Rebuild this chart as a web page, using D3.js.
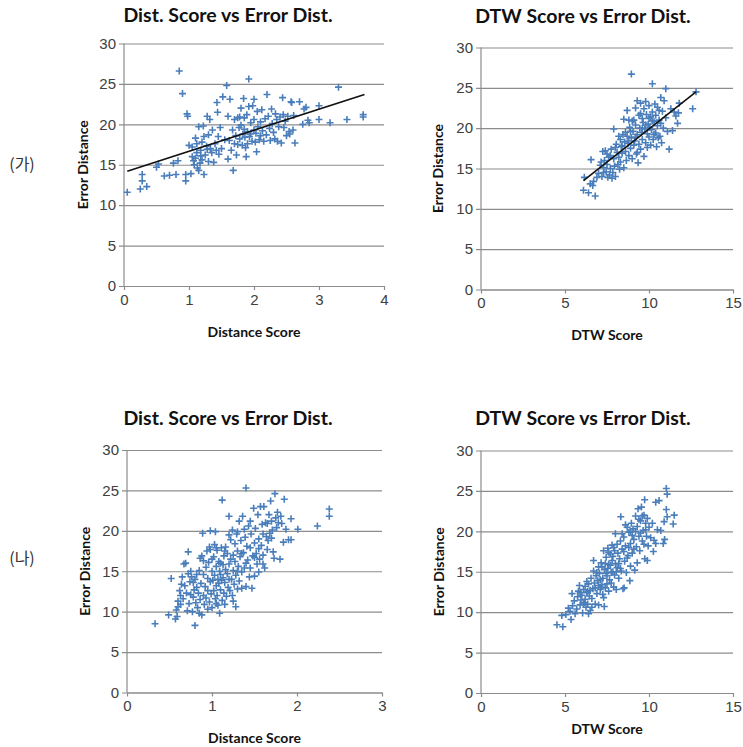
<!DOCTYPE html>
<html>
<head>
<meta charset="utf-8">
<script src="https://cdn.jsdelivr.net/npm/d3@7"></script>
<style>
	body { margin: 0; background: #fff; }
	svg { font-family: Lato, "Open Sans", sans-serif; }
</style>
</head>
<body>
<svg id="chart" width="743" height="747"></svg>
<script>
// (가) Distance score vs error distance
const distScoreA = [
	[0.05,11.6],[0.25,12.0],[0.28,13.0],[0.28,13.8],[0.35,12.3],[0.5,14.7],[0.53,15.1],[0.62,13.6],[0.7,13.7],[0.76,15.2],
	[0.8,13.8],[0.83,15.5],[0.85,26.6],[0.9,23.8],[0.95,13.8],[0.95,13.0],[0.97,21.3],[0.98,21.0],[1.0,17.4],[1.03,13.9],
	[1.05,17.2],[1.05,16.0],[1.07,15.5],[1.08,15.0],[1.1,18.3],[1.1,15.8],[1.12,16.5],[1.13,14.6],[1.15,14.3],[1.15,19.7],
	[1.17,15.2],[1.18,16.8],[1.2,17.8],[1.2,15.6],[1.22,19.8],[1.23,18.5],[1.23,13.8],[1.25,16.2],[1.27,17.3],[1.28,21.0],
	[1.3,18.7],[1.3,15.4],[1.32,20.6],[1.33,17.0],[1.35,16.5],[1.36,19.3],[1.38,15.3],[1.4,17.6],[1.42,16.8],[1.43,22.7],
	[1.44,21.5],[1.45,18.5],[1.46,16.3],[1.48,19.6],[1.5,17.0],[1.52,23.4],[1.55,18.1],[1.12,17.6],[1.18,16.1],[1.28,16.9],
	[1.58,24.8],[1.6,21.0],[1.6,15.7],[1.62,18.0],[1.63,23.1],[1.65,16.8],[1.67,19.3],[1.68,14.3],[1.7,20.6],[1.7,17.6],
	[1.72,18.6],[1.73,16.2],[1.75,20.8],[1.75,17.5],[1.77,19.6],[1.78,18.2],[1.8,22.0],[1.8,19.9],[1.82,17.4],[1.83,18.8],
	[1.84,23.2],[1.85,20.8],[1.86,18.4],[1.87,17.1],[1.88,16.0],[1.89,21.2],[1.9,19.1],[1.92,22.2],[1.92,25.6],[1.93,18.5],
	[1.95,20.2],[1.97,17.9],[1.98,22.3],[2.0,19.3],[2.0,23.1],[2.02,17.8],[2.03,18.9],[2.04,16.6],[2.05,21.6],[2.06,19.7],
	[2.08,18.1],[2.1,20.3],[2.12,21.8],[2.13,19.2],[2.15,17.9],[2.17,20.7],[2.19,18.7],[2.2,23.7],[2.22,21.0],[2.24,19.5],
	[2.25,18.0],[2.27,21.9],[2.28,20.1],[2.3,19.0],[2.32,18.2],[2.33,21.3],[2.35,20.6],[2.36,17.9],[2.38,19.7],[2.4,20.9],
	[2.42,17.7],[2.44,23.3],[2.45,21.2],[2.46,19.6],[2.48,20.4],[2.5,18.6],[2.52,21.0],[2.54,19.1],[2.55,18.8],[2.57,22.8],
	[2.58,22.7],[2.6,19.3],[2.61,21.1],[2.63,17.7],[1.85,19.4],[1.95,18.8],[2.0,20.6],[1.78,20.9],[1.9,17.6],[2.1,18.6],
	[2.7,22.8],[2.75,20.0],[2.77,21.9],[2.8,22.1],[2.83,20.5],[2.85,20.2],[3.0,22.3],[3.0,20.6],[3.17,20.2],[3.3,24.6],
	[3.43,20.6],[3.68,21.2],[3.68,20.9]
];
const distTrendA = [[0.05,14.2],[3.7,23.7]];

// (가) DTW score vs error distance
const dtwScoreA = [
	[6.1,12.3],[6.4,12.0],[6.8,11.6],[6.15,13.9],[6.5,13.1],[6.65,12.9],[6.7,13.4],[6.55,16.1],[6.9,13.9],[7.0,14.4],
	[7.1,15.4],[7.15,15.8],[7.2,14.0],[7.25,17.1],[7.3,15.1],[7.35,16.0],[7.4,17.2],[7.45,14.6],[7.5,15.5],[7.55,13.9],
	[7.6,16.4],[7.65,14.2],[7.7,15.0],[7.75,17.4],[7.8,13.8],[7.85,14.5],[7.9,19.9],[7.9,16.2],[7.95,15.3],[8.0,14.0],
	[8.05,18.0],[8.1,17.0],[8.15,15.5],[8.2,16.4],[8.25,14.9],[8.3,18.6],[8.3,15.8],[8.35,17.7],[8.4,16.9],[8.45,19.2],
	[8.5,21.1],[8.5,15.1],[8.55,18.3],[8.6,17.1],[8.65,16.0],[8.7,22.2],[8.7,19.0],[8.75,18.1],[8.8,16.6],[8.8,21.0],
	[8.85,20.1],[8.9,17.5],[8.95,26.7],[8.95,18.8],[9.0,16.2],[9.05,19.6],[9.1,17.9],[9.1,21.0],[9.15,18.4],[9.2,20.4],
	[9.25,16.8],[9.3,23.4],[9.3,19.2],[9.35,15.7],[9.4,21.6],[9.4,18.0],[9.45,20.0],[9.5,23.1],[9.5,17.4],[9.55,19.5],
	[9.6,21.2],[9.6,18.6],[9.65,20.7],[9.7,16.5],[9.7,22.4],[9.75,19.9],[9.8,18.2],[9.8,23.3],[9.85,21.7],[9.9,19.3],
	[9.9,17.6],[9.95,20.5],[10.0,22.8],[10.0,18.9],[10.05,20.1],[10.1,21.4],[10.1,17.9],[10.15,19.8],[10.2,25.5],[10.2,22.0],
	[10.25,18.6],[10.3,20.8],[10.35,23.0],[10.4,19.4],[10.4,21.6],[10.45,17.7],[10.5,20.3],[10.5,22.6],[10.55,18.8],[10.6,21.0],
	[10.65,19.0],[10.7,23.8],[10.7,20.6],[10.75,18.2],[10.8,22.1],[10.85,20.0],[10.9,23.4],[11.0,24.9],[11.0,21.3],[11.1,19.6],
	[11.2,17.4],[11.3,22.4],[11.4,19.7],[11.5,22.0],[11.6,21.5],[11.7,20.6],[11.75,21.9],[11.8,23.1],[12.6,22.4],[12.8,24.5],
	[9.0,20.9],[9.2,22.5],[8.6,19.5],[8.4,17.8],[8.2,19.0],[7.7,16.6],[7.5,16.8],[7.3,14.5],[8.0,17.6],[9.5,21.8],
	[9.8,20.4],[10.3,19.2],[10.6,22.2],[9.3,17.0],[8.9,19.6],[9.6,20.0],[10.0,21.2],[9.2,18.9],[8.8,18.4],[10.2,20.9]
];
const dtwTrendA = [[6.1,13.5],[12.8,24.5]];

// (나) Distance score vs error distance
const distScoreB = [
	[0.33,8.5],[0.49,9.6],[0.52,14.1],[0.57,9.1],[0.58,10.2],[0.59,9.4],[0.6,10.6],[0.6,11.3],[0.62,12.6],[0.63,10.9],
	[0.63,12.0],[0.64,13.4],[0.65,14.3],[0.66,11.6],[0.67,15.9],[0.68,13.2],[0.69,16.0],[0.7,12.3],[0.71,10.1],[0.72,17.4],
	[0.72,14.7],[0.73,11.0],[0.74,13.7],[0.75,12.1],[0.76,14.3],[0.77,10.0],[0.78,11.8],[0.78,13.6],[0.79,12.7],[0.8,8.3],
	[0.8,14.0],[0.81,11.1],[0.82,13.0],[0.83,10.5],[0.84,12.3],[0.85,15.1],[0.85,9.8],[0.86,16.6],[0.86,11.5],[0.87,13.5],
	[0.88,9.6],[0.88,16.9],[0.89,19.7],[0.9,12.0],[0.9,14.6],[0.91,10.9],[0.92,13.1],[0.93,15.5],[0.93,11.7],[0.94,17.5],
	[0.95,12.6],[0.95,14.1],[0.96,16.1],[0.97,11.2],[0.97,18.0],[0.98,13.7],[0.98,20.0],[0.99,12.2],[1.0,15.0],[1.0,10.5],
	[1.01,13.9],[1.02,16.8],[1.02,12.6],[1.03,18.3],[1.03,14.5],[1.04,11.6],[1.04,19.9],[1.05,13.2],[1.05,15.6],[1.06,12.0],
	[1.06,17.6],[1.07,14.0],[1.07,10.8],[1.08,16.2],[1.08,13.5],[1.09,15.0],[1.09,9.8],[1.1,12.7],[1.1,14.6],[1.11,17.9],
	[1.11,13.9],[1.12,23.8],[1.12,11.4],[1.13,15.8],[1.13,14.2],[1.14,12.3],[1.14,16.9],[1.15,13.6],[1.16,18.0],[1.16,15.2],
	[1.17,11.9],[1.18,14.7],[1.18,17.2],[1.19,13.0],[1.2,21.8],[1.2,15.9],[1.21,12.6],[1.22,16.5],[1.22,18.9],[1.23,14.0],
	[1.24,20.1],[1.24,12.0],[1.25,17.0],[1.25,15.1],[1.26,13.4],[1.27,18.4],[1.27,16.2],[1.28,10.6],[1.28,14.5],[1.29,19.6],
	[1.3,12.8],[1.3,17.5],[1.31,15.6],[1.32,21.2],[1.32,13.8],[1.33,16.8],[1.34,18.8],[1.35,14.9],[1.35,12.9],[1.36,21.8],
	[1.37,17.3],[1.38,15.4],[1.39,19.2],[1.4,25.3],[1.4,13.1],[1.41,18.1],[1.42,16.4],[1.43,20.6],[1.44,14.3],[1.45,17.9],
	[1.46,19.6],[1.47,12.9],[1.48,16.9],[1.49,22.8],[1.5,18.5],[1.5,14.4],[1.51,20.3],[1.52,17.2],[1.53,15.9],[1.54,22.0],
	[1.55,14.9],[1.55,19.0],[1.56,16.5],[1.57,23.0],[1.58,18.2],[1.59,20.8],[1.6,17.0],[1.6,15.9],[1.61,23.0],[1.62,15.4],
	[1.63,21.0],[1.64,19.3],[1.65,20.9],[1.66,18.8],[1.67,22.0],[1.68,19.7],[1.69,23.7],[1.7,21.2],[1.71,20.1],[1.72,17.4],
	[1.73,16.6],[1.74,24.6],[1.75,21.6],[1.76,20.4],[1.77,22.3],[1.78,21.0],[1.8,16.5],[1.81,21.8],[1.82,20.9],[1.84,18.6],
	[1.85,23.9],[1.87,20.2],[1.9,18.9],[1.93,21.5],[1.93,18.9],[2.01,20.2],[2.24,20.6],[2.38,22.7],[2.38,21.8],
	[0.75,15.0],[0.82,14.6],[0.9,16.3],[0.95,10.3],[1.0,16.5],[1.05,11.0],[1.1,16.0],[1.15,10.9],[1.2,14.0],[1.25,11.3],
	[1.3,15.0],[1.35,17.2],[1.4,16.0],[1.45,15.4],[1.5,16.7],[1.55,17.8],[1.6,19.6],[1.65,17.7],[1.7,19.1],[1.45,21.2],
	[1.38,20.2],[1.05,17.9],[1.15,17.5],[0.98,17.7],[1.2,19.5],[1.3,19.9]
];

// (나) DTW score vs error distance
const dtwScoreB = [
	[4.52,8.45],[4.87,8.2],[4.81,9.6],[5.05,9.7],[5.36,9.1],[5.42,12.3],[5.2,10.5],[5.3,10.1],[5.45,10.8],[5.55,11.4],
	[5.6,9.8],[5.7,10.4],[5.75,11.9],[5.8,12.6],[5.86,13.3],[5.9,10.9],[5.95,11.5],[6.0,12.1],[6.05,9.9],[6.1,12.8],
	[6.15,11.2],[6.2,13.2],[6.25,10.6],[6.3,12.4],[6.35,11.0],[6.4,13.5],[6.4,9.8],[6.45,12.0],[6.5,10.2],[6.55,14.2],
	[6.6,11.7],[6.65,12.9],[6.7,15.1],[6.7,16.4],[6.75,13.6],[6.8,11.0],[6.85,14.5],[6.9,12.3],[6.95,13.9],[7.0,15.6],
	[7.0,10.9],[7.05,14.8],[7.1,12.8],[7.15,16.1],[7.2,13.4],[7.25,14.2],[7.3,17.6],[7.3,11.8],[7.34,10.7],[7.35,15.3],
	[7.4,13.0],[7.45,16.8],[7.5,14.5],[7.55,17.9],[7.6,12.6],[7.6,15.9],[7.65,14.0],[7.7,17.2],[7.75,13.6],[7.8,16.4],
	[7.85,15.0],[7.9,18.0],[7.9,13.1],[7.95,14.6],[8.0,19.7],[8.0,16.0],[8.05,12.8],[8.1,15.5],[8.15,17.3],[8.2,14.2],
	[8.25,16.6],[8.3,18.8],[8.32,21.8],[8.35,15.1],[8.4,17.8],[8.45,12.9],[8.5,19.3],[8.52,13.0],[8.55,16.3],[8.6,18.2],
	[8.65,14.9],[8.7,20.5],[8.75,17.0],[8.8,19.9],[8.86,13.9],[8.9,18.5],[8.9,15.7],[8.95,21.0],[9.0,17.3],[9.05,20.3],
	[9.1,19.0],[9.15,15.2],[9.2,21.9],[9.25,18.1],[9.3,16.1],[9.3,20.6],[9.35,22.8],[9.4,19.4],[9.45,17.6],[9.5,21.3],
	[9.55,23.0],[9.6,18.8],[9.65,20.1],[9.7,22.0],[9.74,23.9],[9.75,16.6],[9.8,21.0],[9.85,19.4],[9.9,16.4],[9.9,21.6],
	[9.95,18.2],[10.0,20.5],[10.1,19.2],[10.2,21.0],[10.26,17.5],[10.3,18.9],[10.4,18.5],[10.4,23.6],[10.5,20.2],[10.6,23.8],
	[10.7,20.1],[10.85,18.5],[10.93,19.0],[10.9,21.2],[11.03,22.7],[11.08,21.8],[11.03,25.3],[11.08,24.6],[11.44,20.9],[11.5,22.0],
	[6.2,11.6],[6.3,13.8],[6.5,12.7],[6.6,10.6],[6.8,13.0],[6.9,14.9],[7.0,13.3],[7.1,14.0],[7.2,15.6],[7.25,12.2],
	[7.4,16.0],[7.45,14.8],[7.5,13.5],[7.55,15.4],[7.6,17.4],[7.7,15.8],[7.75,14.9],[7.8,18.3],[7.85,16.9],[7.95,17.6],
	[8.1,18.4],[8.2,16.0],[8.3,15.4],[8.4,19.7],[8.5,17.5],[8.6,20.8],[8.7,16.7],[8.8,18.0],[8.9,20.0],[9.0,19.5],
	[9.1,17.8],[9.2,20.0],[9.4,21.5],[9.5,19.8],[9.6,21.9],[9.7,18.4],[9.8,20.2],[5.9,12.4],[6.1,11.0],[6.35,12.6],
	[7.15,13.1],[8.05,15.0]
];

const yTicks = [0, 5, 10, 15, 20, 25, 30];
const distTicksA = [0, 1, 2, 3, 4];
const distTicksB = [0, 1, 2, 3];
const dtwTicks = [0, 5, 10, 15];

const titleDist = "Dist. Score vs Error Dist.";
const titleDtw = "DTW Score vs Error Dist.";
const rowLabels = ["(가)", "(나)"];

const panels = [
	{ points: distScoreA, trend: distTrendA, xTicks: distTicksA, title: titleDist, xLabel: "Distance Score",
		left: 124, right: 384, top: 43.5, bottom: 286, titleX: 228, titleY: 22, yLabelX: 82, xLabelY: 331 },
	{ points: dtwScoreA, trend: dtwTrendA, xTicks: dtwTicks, title: titleDtw, xLabel: "DTW Score",
		left: 481, right: 733, top: 47.5, bottom: 289.5, titleX: 583, titleY: 23, yLabelX: 437, xLabelY: 334 },
	{ points: distScoreB, trend: null, xTicks: distTicksB, title: titleDist, xLabel: "Distance Score",
		left: 127, right: 382, top: 450, bottom: 692.5, titleX: 228, titleY: 425, yLabelX: 84, xLabelY: 737 },
	{ points: dtwScoreB, trend: null, xTicks: dtwTicks, title: titleDtw, xLabel: "DTW Score",
		left: 481, right: 733, top: 450.5, bottom: 693, titleX: 583, titleY: 425, yLabelX: 438, xLabelY: 728 },
];

const svg = d3.select("#chart");
const gridColor = "#8c8c8c";
const tickTextColor = "#404040";
const markerColor = "#4a7ebb";

panels.forEach((p) => {
	const x = d3.scaleLinear()
		.domain(d3.extent(p.xTicks))
		.range([p.left, p.right]);
	const y = d3.scaleLinear()
		.domain([0, 30])
		.range([p.bottom, p.top]);

	const g = svg.append("g");

	// horizontal gridlines + y axis
	const yAxis = g.append("g")
		.attr("transform", `translate(${p.left},0)`)
		.call(d3.axisLeft(y).tickValues(yTicks).tickFormat(d3.format("d"))
			.tickSizeInner(-(p.right - p.left)).tickSizeOuter(0));
	yAxis.select(".domain").remove();
	yAxis.selectAll(".tick line")
		.attr("x1", -5)
		.attr("stroke", gridColor)
		.attr("stroke-width", 1.2);
	yAxis.selectAll(".tick text")
		.attr("x", -8)
		.attr("fill", tickTextColor)
		.style("font-size", "15px");
	g.append("line")
		.attr("x1", p.left).attr("x2", p.left)
		.attr("y1", p.top).attr("y2", p.bottom)
		.attr("stroke", gridColor).attr("stroke-width", 1.2);

	// x axis
	const xAxis = g.append("g")
		.attr("transform", `translate(0,${p.bottom})`)
		.call(d3.axisBottom(x).tickValues(p.xTicks).tickFormat(d3.format("d"))
			.tickSize(4).tickSizeOuter(0).tickPadding(4));
	xAxis.select(".domain").attr("stroke", gridColor).attr("stroke-width", 1.2);
	xAxis.selectAll(".tick line").attr("stroke", gridColor).attr("stroke-width", 1.2);
	xAxis.selectAll(".tick text")
		.attr("fill", tickTextColor)
		.style("font-size", "15px");

	// markers
	g.append("g")
		.selectAll("path")
		.data(p.points)
		.join("path")
		.attr("d", (d) => {
			const cx = x(d[0]), cy = y(d[1]), s = 3.5;
			return `M${cx - s},${cy}H${cx + s}M${cx},${cy - s}V${cy + s}`;
		})
		.attr("stroke", markerColor)
		.attr("stroke-width", 1.6)
		.attr("fill", "none");

	// linear trendline
	if (p.trend) {
		g.append("path")
			.datum(p.trend)
			.attr("d", d3.line().x((d) => x(d[0])).y((d) => y(d[1])))
			.attr("stroke", "#111")
			.attr("stroke-width", 1.6)
			.attr("fill", "none");
	}

	// title and axis labels
	g.append("text")
		.attr("x", p.titleX).attr("y", p.titleY)
		.attr("text-anchor", "middle")
		.style("font-size", "19.5px")
		.style("font-weight", "bold")
		.attr("fill", "#111")
		.text(p.title);

	g.append("text")
		.attr("transform", `translate(${p.yLabelX},${(p.top + p.bottom) / 2}) rotate(-90)`)
		.attr("text-anchor", "middle")
		.attr("dominant-baseline", "central")
		.style("font-size", "14px")
		.style("font-weight", "bold")
		.attr("fill", "#111")
		.text("Error Distance");

	g.append("text")
		.attr("x", (p.left + p.right) / 2).attr("y", p.xLabelY)
		.attr("text-anchor", "middle")
		.attr("dominant-baseline", "central")
		.style("font-size", "14px")
		.style("font-weight", "bold")
		.attr("fill", "#111")
		.text(p.xLabel);
});

// row labels
svg.selectAll("text.row")
	.data(rowLabels)
	.join("text")
	.attr("class", "row")
	.attr("x", 22)
	.attr("y", (d, i) => (i === 0 ? 163 : 557))
	.attr("text-anchor", "middle")
	.attr("dominant-baseline", "central")
	.style("font-family", "'Noto Sans CJK KR', sans-serif")
	.style("font-size", "16px")
	.attr("fill", "#333")
	.text((d) => d);
</script>
</body>
</html>
